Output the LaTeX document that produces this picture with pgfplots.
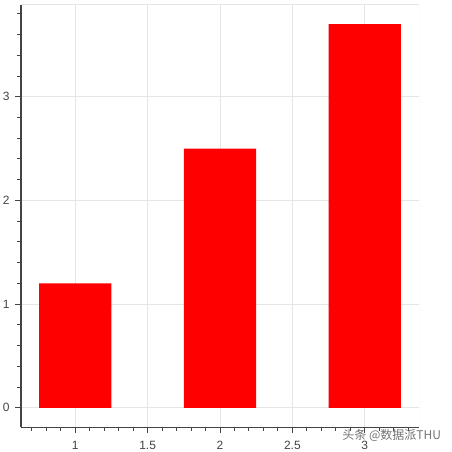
\documentclass[border=0pt]{standalone}
\usepackage{pgfplots}
\pgfplotsset{compat=1.18}
\usepackage{fontspec}
\setmainfont{Liberation Sans}
\newfontfamily\cjk{Noto Sans CJK SC}
\definecolor{gridgray}{HTML}{E5E5E5}
\definecolor{axisgray}{HTML}{444444}
\begin{document}
\begin{tikzpicture}
\useasboundingbox (-15.75pt,-18.75pt) rectangle (323.25pt,320.25pt);
\begin{axis}[
    name=ax,
    at={(0,0)}, anchor=south west,
    scale only axis,
    width=298.5pt, height=316.5pt,
    xmin=0.625, xmax=3.375,
    ymin=-0.185, ymax=3.885,
    axis x line*=bottom, axis y line*=left,
    axis line style={draw=axisgray, line width=0.75pt, -},
    xtick={1,1.5,2,2.5,3},
    ytick={0,1,2,3},
    minor xtick={0.7,0.8,0.9,1.1,1.2,1.3,1.4,1.6,1.7,1.8,1.9,2.1,2.2,2.3,2.4,2.6,2.7,2.8,2.9,3.1,3.2,3.3},
    minor ytick={0.2,0.4,0.6,0.8,1.2,1.4,1.6,1.8,2.2,2.4,2.6,2.8,3.2,3.4,3.6,3.8},
    tick align=outside,
    major tick length=4.5pt,
    minor tick length=3pt,
    tick style={draw=axisgray, line width=0.75pt},
    grid=major,
    major grid style={draw=gridgray, line width=0.75pt},
    ticklabel style={font=\fontsize{9}{10}\selectfont, text=axisgray},
    xticklabel shift=2.5pt,
    yticklabel shift=0.5pt,
    /pgf/number format/assume math mode=true,
]
\addplot[ybar, bar width=0.5, fill=red, draw=none] coordinates {(1,1.2) (2,2.5) (3,3.7)};
\draw[gridgray, line width=0.75pt] (rel axis cs:0,1) -- (rel axis cs:1,1) -- (rel axis cs:1,0);
\end{axis}
\node[text=black!55, font=\cjk\fontsize{9}{10}\selectfont, inner sep=0pt] at (278pt,-6.5pt) {头条 @数据派THU};
\end{tikzpicture}
\end{document}
